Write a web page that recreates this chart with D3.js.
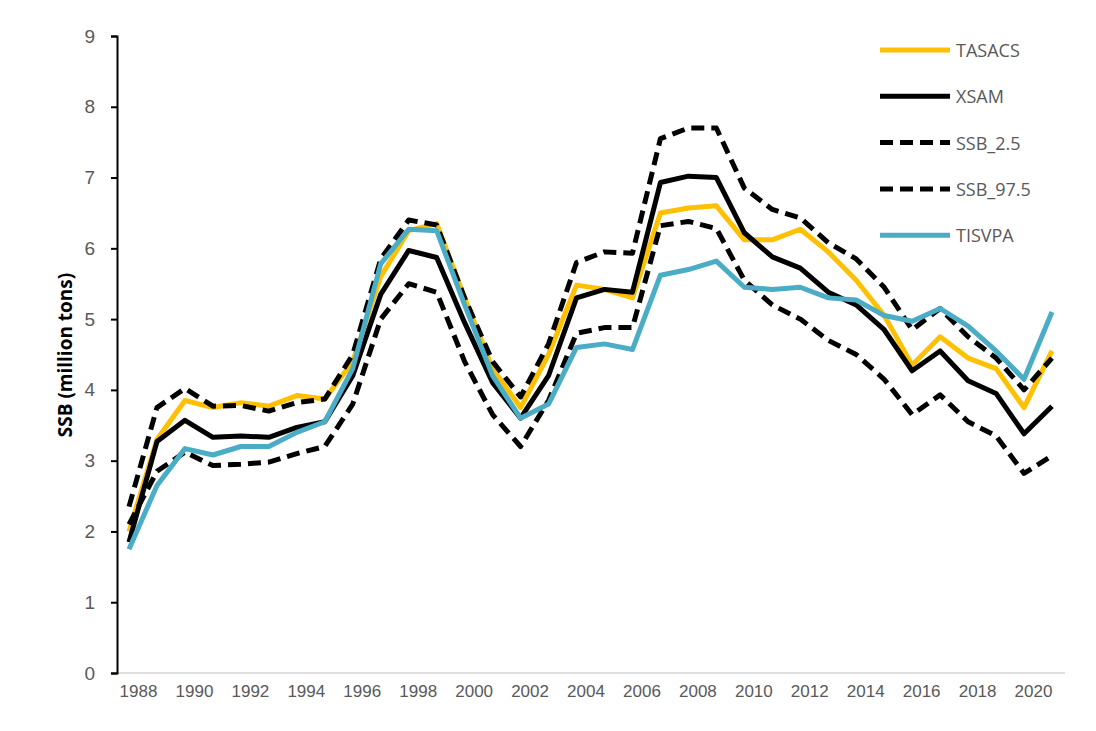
<!DOCTYPE html>
<html><head><meta charset="utf-8">
<script src="https://cdn.jsdelivr.net/npm/d3@7"></script>
<style>body{margin:0;background:#fff}svg{font-family:"Open Sans",sans-serif}</style>
</head><body><svg width="1096" height="731"></svg>
<script>
var years = d3.range(1988, 2022);
var tasacs = [2.0,3.3,3.85,3.75,3.82,3.77,3.92,3.87,4.4,5.6,6.25,6.35,5.3,4.3,3.75,4.5,5.48,5.42,5.3,6.5,6.57,6.6,6.12,6.12,6.27,5.95,5.55,5.05,4.35,4.75,4.45,4.3,3.75,4.55];
var xsam = [1.85,3.27,3.57,3.33,3.35,3.33,3.47,3.55,4.2,5.35,5.97,5.87,4.95,4.1,3.6,4.2,5.3,5.42,5.38,6.93,7.02,7.0,6.22,5.88,5.72,5.38,5.2,4.85,4.27,4.55,4.13,3.95,3.38,3.77];
var ssb25 = [2.35,3.75,4.02,3.77,3.78,3.7,3.82,3.87,4.5,5.85,6.4,6.33,5.3,4.4,3.9,4.65,5.8,5.95,5.93,7.55,7.7,7.7,6.85,6.55,6.43,6.08,5.85,5.45,4.85,5.15,4.75,4.45,4.0,4.45];
var ssb975 = [2.1,2.85,3.12,2.93,2.95,2.98,3.1,3.2,3.8,5.0,5.5,5.38,4.4,3.65,3.2,3.85,4.8,4.88,4.88,6.32,6.38,6.28,5.55,5.2,5.0,4.7,4.5,4.15,3.65,3.93,3.55,3.35,2.82,3.07];
var tisvpa = [1.75,2.65,3.17,3.08,3.2,3.2,3.4,3.55,4.3,5.78,6.27,6.25,5.2,4.2,3.6,3.8,4.6,4.65,4.57,5.62,5.7,5.82,5.45,5.42,5.45,5.3,5.27,5.05,4.97,5.15,4.9,4.55,4.15,5.1];
var yTicks = d3.range(0, 10);

var series = [
  {name:"TASACS", v:tasacs, color:"#FFC000", dash:null},
  {name:"XSAM", v:xsam, color:"#000000", dash:null},
  {name:"SSB_2.5", v:ssb25, color:"#000000", dash:"13,7"},
  {name:"SSB_97.5", v:ssb975, color:"#000000", dash:"13,7"},
  {name:"TISVPA", v:tisvpa, color:"#4BACC6", dash:null}
];

var svg = d3.select("svg");
var x = d3.scaleLinear().domain([1988, 2021]).range([129, 1052]);
var y = d3.scaleLinear().domain([0, 9]).range([673, 36]);

// x axis
var xa = svg.append("g").attr("transform", "translate(0,673)")
  .call(d3.axisBottom(x).tickValues(years.filter(function(d){return d % 2 == 0;})).tickFormat(d3.format("d")).tickSize(0).tickPadding(12));
xa.select(".domain").attr("d", "M117,0H1065").attr("stroke", "#bfbfbf");
xa.selectAll("text").attr("font-size", 17).attr("fill", "#595959").attr("dx", 9);

// y axis
var ya = svg.append("g").attr("transform", "translate(117,0)")
  .call(d3.axisLeft(y).tickValues(yTicks).tickSize(6).tickPadding(16));
ya.select(".domain").attr("stroke", "#000").attr("stroke-width", 2);
ya.selectAll("line").attr("stroke", "#000").attr("stroke-width", 2);
ya.selectAll("text").attr("font-size", 19).attr("fill", "#595959");

svg.append("text").attr("transform", "translate(72,355) rotate(-90)")
  .attr("text-anchor", "middle").attr("font-size", 19).attr("font-weight", "bold")
  .text("SSB (million tons)");

var line = d3.line().x(function(d,i){return x(years[i]);}).y(function(d){return y(d);});
series.forEach(function(s){
  svg.append("path").datum(s.v).attr("d", line).attr("fill", "none")
    .attr("stroke", s.color).attr("stroke-width", 5)
    .attr("stroke-dasharray", s.dash).attr("stroke-linejoin", "round");
});

// legend
series.forEach(function(s, i){
  var ly = 50 + i * 46.3;
  svg.append("line").attr("x1", 880).attr("x2", 950).attr("y1", ly).attr("y2", ly)
    .attr("stroke", s.color).attr("stroke-width", 5).attr("stroke-dasharray", s.dash);
  svg.append("text").attr("x", 956).attr("y", ly + 7).attr("font-size", 18)
    .attr("fill", "#595959").text(s.name);
});
</script></body></html>
